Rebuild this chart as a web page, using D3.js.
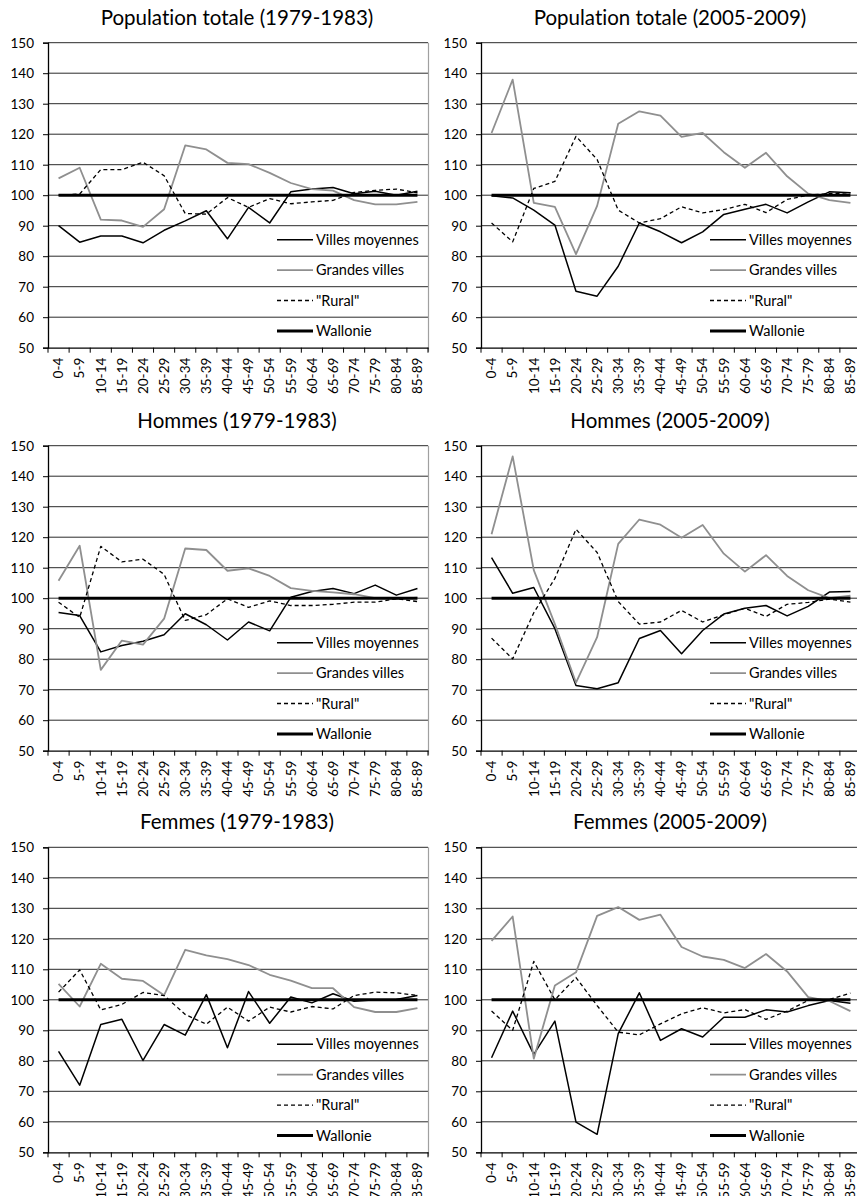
<!DOCTYPE html>
<html>
<head>
<meta charset="utf-8">
<script src="https://cdn.jsdelivr.net/npm/d3@7"></script>
<style>
  html, body { margin: 0; padding: 0; background: #fff; }
  svg { display: block; font-family: Lato, "Noto Sans", sans-serif; font-variant-ligatures: none; }
</style>
</head>
<body>
<svg id="chart" width="857" height="1196"></svg>
<script>
// ---------- DATA ----------
const ageGroups = ["0-4","5-9","10-14","15-19","20-24","25-29","30-34","35-39","40-44","45-49","50-54","55-59","60-64","65-69","70-74","75-79","80-84","85-89"];
const seriesNames = ["Villes moyennes", "Grandes villes", "\"Rural\"", "Wallonie"];
const yTicks = [50, 60, 70, 80, 90, 100, 110, 120, 130, 140, 150];
const panelTitles = ["Population totale (1979-1983)", "Population totale (2005-2009)", "Hommes (1979-1983)", "Hommes (2005-2009)", "Femmes (1979-1983)", "Femmes (2005-2009)"];

const wallonie = [100,100,100,100,100,100,100,100,100,100,100,100,100,100,100,100,100,100];

// Population totale 1979-1983
const villesMoyTot79 = [90, 84.6, 86.6, 86.6, 84.4, 88.5, 91.6, 94.9, 85.7, 96, 90.9, 101.1, 102, 102.5, 100.5, 101.3, 100, 101.3];
const grandesTot79   = [105.5, 109, 92, 91.7, 89.6, 95.4, 116.3, 115, 110.6, 110.2, 107.3, 104, 102, 101.5, 98.4, 97, 97, 97.8];
const ruralTot79     = [100, 100.4, 108.4, 108.4, 110.8, 106.4, 94, 93.8, 99.2, 96, 98.9, 97.2, 97.8, 98.3, 100.9, 101.6, 102, 100.8];
// Population totale 2005-2009
const villesMoyTot05 = [99.8, 99.1, 95.1, 90.2, 68.5, 66.9, 76.7, 90.9, 88, 84.4, 88, 93.7, 95.4, 97, 94.2, 97.8, 101.1, 100.8];
const grandesTot05   = [120.4, 137.9, 97.5, 96.2, 80.7, 96.5, 123.4, 127.5, 126.1, 119.1, 120.4, 114.1, 109, 113.9, 106.2, 100.5, 98.4, 97.5];
const ruralTot05     = [90.9, 84.7, 102.2, 104.5, 119.3, 111.7, 95.1, 90.9, 92.3, 96.2, 94.2, 95.3, 97, 94.3, 98.6, 100, 100.5, 100.8];
// Hommes 1979-1983
const villesMoyHom79 = [95.3, 94.3, 82.4, 84.5, 85.9, 88, 94.9, 91.3, 86.3, 92.2, 89.3, 100.3, 102.2, 103.2, 101.5, 104.3, 101, 103.2];
const grandesHom79   = [105.7, 117.2, 76.5, 86.1, 84.8, 93.3, 116.3, 115.8, 109, 109.8, 107.3, 103.3, 102.4, 101.9, 101.3, 100, 99.8, 100.2];
const ruralHom79     = [98.7, 93.7, 117, 111.9, 112.8, 107.8, 92.7, 94.6, 99.8, 97, 99.1, 97.6, 97.6, 98, 98.7, 98.7, 99.8, 98.9];
// Hommes 2005-2009
const villesMoyHom05 = [113.3, 101.6, 103.5, 90, 71.4, 70.3, 72.3, 86.8, 89.4, 81.8, 89.4, 94.8, 96.7, 97.6, 94.2, 97.3, 102, 102.2];
const grandesHom05   = [121, 146.5, 109.2, 91.5, 72.3, 87.2, 117.8, 125.8, 124.1, 119.8, 124, 114.6, 108.7, 114.1, 107.3, 102.6, 100, 100.8];
const ruralHom05     = [86.9, 80.1, 95.2, 106.5, 122.6, 115, 98.9, 91.5, 92.2, 96, 92.2, 94.6, 96.7, 94, 98, 98.6, 99.7, 98.7];
// Femmes 1979-1983
const villesMoyFem79 = [83.1, 72, 91.9, 93.6, 80.1, 91.9, 88.4, 101.7, 84.3, 102.7, 92.3, 100.9, 99, 102, 99.5, 100, 100.1, 101.4];
const grandesFem79   = [105.2, 97.8, 111.8, 106.9, 106.2, 101.5, 116.4, 114.6, 113.3, 111.4, 108.2, 106.3, 103.8, 103.8, 97.6, 96, 96, 97.3];
const ruralFem79     = [102.5, 109.8, 96.7, 98.5, 102.4, 101.4, 95.2, 92, 97.6, 93, 97.6, 96, 97.8, 97, 101.4, 102.5, 102.3, 101.4];
// Femmes 2005-2009
const villesMoyFem05 = [81, 96.3, 82.1, 93, 59.9, 55.9, 88.9, 102.3, 86.7, 90.5, 87.8, 94.3, 94.3, 96.7, 96, 98.1, 99.8, 98.9];
const grandesFem05   = [119.3, 127.3, 80.7, 104.7, 109, 127.5, 130.4, 126.2, 127.9, 117.3, 114.2, 113.1, 110.4, 115, 109.3, 100.9, 99.6, 96.3];
const ruralFem05     = [96.3, 90, 112.6, 100, 107.3, 98.1, 89.4, 88.5, 92.1, 95.4, 97.4, 95.7, 96.8, 93.6, 96.3, 99.8, 100.1, 102.2];

const panelSeries = [
  [villesMoyTot79, grandesTot79, ruralTot79, wallonie],
  [villesMoyTot05, grandesTot05, ruralTot05, wallonie],
  [villesMoyHom79, grandesHom79, ruralHom79, wallonie],
  [villesMoyHom05, grandesHom05, ruralHom05, wallonie],
  [villesMoyFem79, grandesFem79, ruralFem79, wallonie],
  [villesMoyFem05, grandesFem05, ruralFem05, wallonie]
];

// ---------- STYLE / LAYOUT ----------
const styles = [
  { stroke: "#000", width: 1.5, dash: null },
  { stroke: "#8f8f8f", width: 1.8, dash: null },
  { stroke: "#000", width: 1.3, dash: "4,3" },
  { stroke: "#000", width: 3, dash: null }
];
const colX = [0, 433];
const rowTop = [42.7, 445.7, 847.3];
const plotLeft = 48, plotRight = 428, plotH = 305;

const svg = d3.select("#chart");

panelTitles.forEach((title, i) => {
  const col = i % 2, row = Math.floor(i / 2);
  const g = svg.append("g").attr("transform", `translate(${colX[col]},0)`);
  const top = rowTop[row], bottom = top + plotH;

  const x = d3.scaleBand().domain(ageGroups).range([plotLeft, plotRight]);
  const y = d3.scaleLinear().domain([50, 150]).range([bottom, top]);

  // gridlines
  g.append("g").selectAll("line").data(yTicks.filter(t => t > 50)).join("line")
    .attr("x1", plotLeft).attr("x2", plotRight)
    .attr("y1", d => y(d)).attr("y2", d => y(d))
    .attr("stroke", "#2a2a2a").attr("stroke-width", 1);

  // right border
  g.append("line").attr("x1", plotRight + 0.5).attr("x2", plotRight + 0.5)
    .attr("y1", top).attr("y2", bottom + 4)
    .attr("stroke", "#a0a0a0").attr("stroke-width", 1.2);

  // y axis
  const yAxis = g.append("g").attr("transform", `translate(${plotLeft},0)`)
    .call(d3.axisLeft(y).tickValues(yTicks).tickSize(5).tickPadding(9));
  yAxis.select(".domain").attr("stroke", "#000").attr("stroke-width", 1.3);
  yAxis.selectAll(".tick line").attr("stroke", "#000");
  yAxis.selectAll("text").attr("font-size", 13.5).attr("fill", "#000")
    .attr("font-family", "Lato, sans-serif");

  // x axis
  const xAxis = g.append("g").attr("transform", `translate(0,${bottom})`)
    .call(d3.axisBottom(x).tickSize(0).tickPadding(0));
  xAxis.select(".domain").attr("stroke", "#000").attr("stroke-width", 1.3);
  xAxis.selectAll(".tick text")
    .attr("font-size", 13.5).attr("fill", "#000").attr("font-family", "Lato, sans-serif")
    .attr("text-anchor", "end")
    .attr("transform", "translate(0,10) rotate(-90)")
    .attr("dx", 0).attr("dy", "0.35em").attr("y", 0).attr("x", 0);
  // band boundary ticks
  const bounds = ageGroups.map(a => x(a)).concat([plotRight]);
  g.append("g").selectAll("line").data(bounds).join("line")
    .attr("x1", d => d).attr("x2", d => d)
    .attr("y1", bottom).attr("y2", bottom + 5)
    .attr("stroke", "#000").attr("stroke-width", 1);

  // lines
  const line = d3.line()
    .x((d, k) => x(ageGroups[k]) + x.bandwidth() / 2)
    .y(d => y(d));
  panelSeries[i].forEach((vals, s) => {
    const st = styles[s];
    g.append("path").datum(vals)
      .attr("d", line)
      .attr("fill", "none")
      .attr("stroke", st.stroke)
      .attr("stroke-width", st.width)
      .attr("stroke-dasharray", st.dash)
      .attr("stroke-linejoin", "round");
  });

  // legend
  const lg = g.append("g");
  seriesNames.forEach((name, s) => {
    const st = styles[s];
    const ly = top + 197 + s * 30.4;
    lg.append("line").attr("x1", 277).attr("x2", 313).attr("y1", ly).attr("y2", ly)
      .attr("stroke", st.stroke).attr("stroke-width", st.width)
      .attr("stroke-dasharray", st.dash);
    lg.append("text").attr("x", 316).attr("y", ly).attr("dy", "0.35em")
      .attr("font-size", 14.5).attr("fill", "#000").text(name);
  });

  // title
  g.append("text")
    .attr("x", (plotLeft + plotRight) / 2 - 1).attr("y", top - 18)
    .attr("text-anchor", "middle").attr("font-size", 20.5).attr("fill", "#000")
    .text(title);
});
</script>
</body>
</html>
